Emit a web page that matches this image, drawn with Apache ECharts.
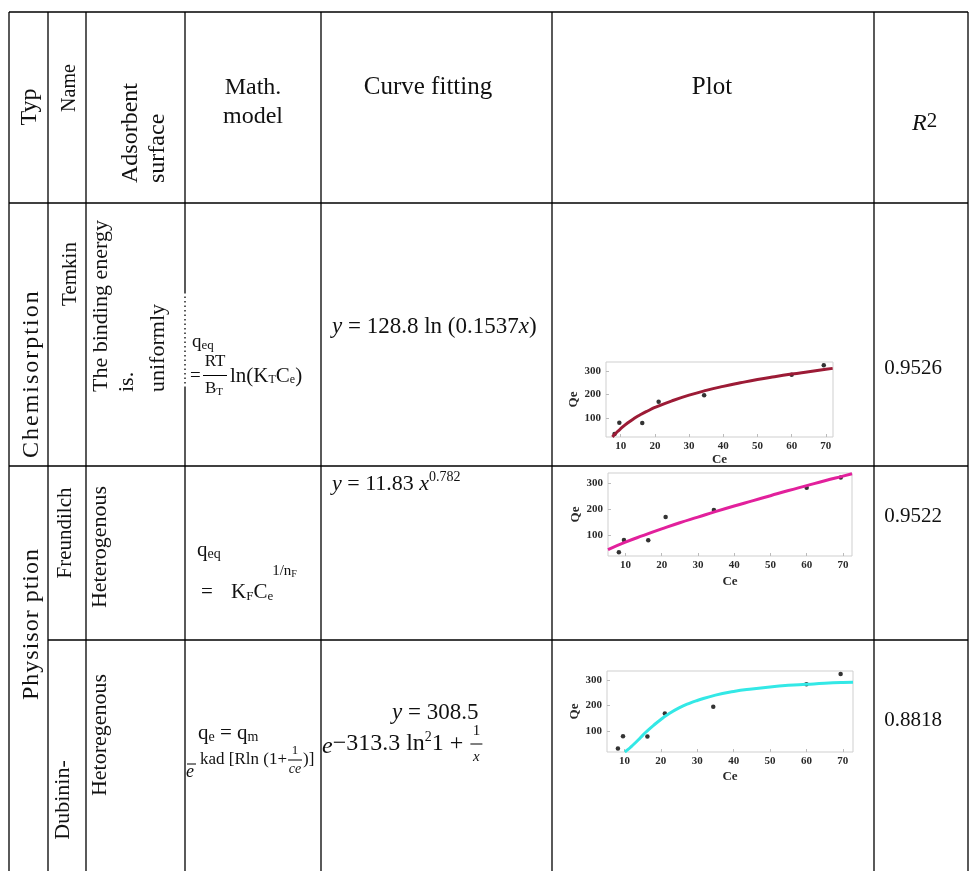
<!DOCTYPE html>
<html>
<head>
<meta charset="utf-8">
<script src="https://cdn.jsdelivr.net/npm/echarts@6/dist/echarts.min.js"></script>
<style>
html, body { margin: 0; padding: 0; background: #fff; }
#chart { width: 970px; height: 871px; }
</style>
</head>
<body>
<div id="chart"></div>
<script>
// Equilibrium measurements: Ce (equilibrium concentration) and Qe (uptake)
const ceObs = [8.2, 9.6, 16.3, 21.1, 34.4, 60.0, 69.4];
const qeObs = [33, 80, 79, 169, 196, 283, 323];

// Temkin fitted curve, y = 128.8 ln(0.1537x)
const temkinCe = [7.6, 8, 9, 10, 12, 14, 16, 18, 20, 25, 30, 35, 40, 45, 50, 55, 60, 65, 70, 72];
const temkinQe = [20, 27, 42, 55, 79, 99, 116, 131, 145, 173, 197, 217, 234, 249, 263, 275, 286, 296, 306, 310];

// Freundlich fitted curve, y = 11.83 x^0.782
const freundCe = [5.2, 10, 15, 20, 25, 30, 35, 40, 45, 50, 55, 60, 65, 70, 72.5];
const freundQe = [43, 72, 98, 123, 147, 169, 191, 212, 232, 252, 272, 291, 310, 328, 337];

// Dubinin fitted curve
const dubCe = [10.1, 11, 12, 13, 14, 15, 16, 18, 20, 22, 25, 28, 30, 35, 40, 45, 50, 55, 60, 65, 70, 72.8];
const dubQe = [19, 29, 42, 55, 69, 84, 98, 123, 146, 166, 191, 210, 220, 241, 255, 265, 273, 279, 283, 287, 290, 291];

const ceTicks = [10, 20, 30, 40, 50, 60, 70];
const qeTicks = [100, 200, 300];
const rSquared = ['0.9526', '0.9522', '0.8818'];

const SERIF = '"Liberation Serif", "Times New Roman", serif';
const mctx = document.createElement('canvas').getContext('2d');
function fontStr(size, italic, bold) {
  return (italic ? 'italic ' : '') + (bold ? 'bold ' : '') + size + 'px ' + SERIF;
}
function measure(s, f) { mctx.font = f; return mctx.measureText(s).width; }

const G = [];
function text(s, x, y, size, o) {
  o = o || {};
  const f = fontStr(size, o.italic, o.bold);
  const al = o.align || 'center';
  const va = o.va || 'middle';
  G.push({
    type: 'text', x: x, y: y, rotation: o.rot || 0, z: 20, silent: true,
    style: { text: s, font: f, fill: '#111', align: al, verticalAlign: va, textAlign: al, textVerticalAlign: va }
  });
  return measure(s, f);
}
// pieces laid out left to right, each with its own size / offset
function run(x, y, parts) {
  let cx = x;
  parts.forEach(function (p) {
    const w = text(p.t, cx, y + (p.dy || 0), p.size, { italic: p.italic, align: 'left' });
    cx += w + (p.gap || 0);
  });
  return cx;
}
// text reading upward, starting from the bottom point y0
function upText(s, x, y0, size, spacing) {
  if (!spacing) { text(s, x, y0, size, { rot: Math.PI / 2, align: 'left' }); return; }
  const f = fontStr(size);
  let off = 0;
  for (const ch of s) {
    if (ch !== ' ') text(ch, x, y0 - off, size, { rot: Math.PI / 2, align: 'left' });
    off += measure(ch, f) + spacing;
  }
}
function upCenter(s, x, yc, size) { text(s, x, yc, size, { rot: Math.PI / 2 }); }
function rule(x1, y1, x2, y2, dash, lw) {
  G.push({
    type: 'line', z: 15, silent: true,
    shape: { x1: x1, y1: y1, x2: x2, y2: y2 },
    style: { stroke: '#000', lineWidth: lw || 1.3, lineDash: dash || null }
  });
}

// ---- table rules ----
const colX = [9, 48, 86, 185, 321, 552, 874, 968];
const TOP = 12, HEAD = 203, ROW1 = 466, ROW2 = 640, BOTTOM = 871;
colX.forEach(function (x) {
  if (x === 185) {
    rule(x, TOP, x, 292);
    rule(x, 292, x, 388, [1.5, 3]);
    rule(x, 388, x, BOTTOM);
  } else {
    rule(x, TOP, x, BOTTOM);
  }
});
rule(9, TOP, 968, TOP);
rule(9, HEAD, 968, HEAD);
rule(9, ROW1, 968, ROW1);
rule(48, ROW2, 968, ROW2);

// ---- header ----
upCenter('Typ', 30, 107, 24);
upCenter('Name', 70, 88, 20);
upText('Adsorbent', 131, 183, 24);
upText('surface', 158, 183, 24);
text('Math.', 253, 88, 24);
text('model', 253, 117, 24);
text('Curve fitting', 428, 87, 25);
text('Plot', 712, 87, 25);
run(912, 124, [{ t: 'R', size: 24, italic: true }, { t: '2', size: 21, dy: -3 }]);

// ---- Temkin row ----
upText('Chemisorption', 32, 458, 24, 2);
upCenter('Temkin', 70, 274, 21);
upText('The binding energy', 101, 392, 22);
upText('is.', 127, 392, 22);
upText('uniformly', 158, 392, 22);
run(192, 342, [{ t: 'q', size: 19 }, { t: 'eq', size: 13, dy: 4 }]);
text('=', 190, 376, 19, { align: 'left' });
text('RT', 215, 362, 17);
rule(203, 375.5, 227, 375.5, null, 1);
run(205, 389, [{ t: 'B', size: 17 }, { t: 'T', size: 11, dy: 3 }]);
run(230, 376, [{ t: 'ln(K', size: 21 }, { t: 'T', size: 12, dy: 4 }, { t: 'C', size: 21 }, { t: 'e', size: 12, dy: 4 }, { t: ')', size: 21 }]);
run(332, 327, [{ t: 'y', size: 23, italic: true }, { t: ' = 128.8 ln (0.1537', size: 23 }, { t: 'x', size: 23, italic: true }, { t: ')', size: 23 }]);
text(rSquared[0], 913, 368, 21);

// ---- Freundlich row ----
upText('Physisor ption', 32, 700, 24, 1);
upCenter('Freundilch', 65, 533, 21);
upCenter('Heterogenous', 100, 547, 22);
run(197, 550, [{ t: 'q', size: 21 }, { t: 'eq', size: 14, dy: 4 }]);
text('=', 201, 592, 21, { align: 'left' });
const fx = run(231, 592, [{ t: 'K', size: 21 }, { t: 'F', size: 13, dy: 5 }, { t: 'C', size: 21 }, { t: 'e', size: 13, dy: 5 }]);
run(fx - 1, 571, [{ t: '1', size: 15 }, { t: '/', size: 15 }, { t: 'n', size: 15 }, { t: 'F', size: 10, dy: 3 }]);
run(332, 484, [{ t: 'y', size: 22, italic: true }, { t: ' = 11.83 ', size: 22 }, { t: 'x', size: 22, italic: true }, { t: '0.782', size: 14, dy: -7 }]);
text(rSquared[1], 913, 516, 21);

// ---- Dubinin row ----
upCenter('Dubinin-', 63, 800, 22);
upCenter('Hetoregenous', 100, 735, 22);
run(198, 733, [{ t: 'q', size: 21 }, { t: 'e', size: 14, dy: 4 }, { t: ' = ', size: 21 }, { t: 'q', size: 21 }, { t: 'm', size: 14, dy: 4 }]);
text('e', 186, 772, 18, { italic: true, align: 'left' });
rule(187, 764, 196, 764, null, 1);
const kx = run(200, 760, [{ t: 'kad [Rln (1+', size: 17 }]);
text('1', kx + 8, 751, 13);
rule(kx + 1, 760, kx + 15, 760, null, 1);
text('ce', kx + 8, 769, 14, { italic: true });
run(kx + 16, 760, [{ t: ')]', size: 17 }]);
run(392, 713, [{ t: 'y', size: 23, italic: true }, { t: ' = 308.5', size: 23 }]);
const ex = run(322, 744, [{ t: 'e', size: 24, italic: true, dy: 3 }, { t: '\u2212313.3 ln', size: 24 }, { t: '2', size: 14, dy: -7 }, { t: '1 + ', size: 24 }]);
text('1', ex + 7, 731, 15);
rule(ex + 1, 744, ex + 13, 744, null, 1);
text('x', ex + 7, 757, 15, { italic: true });
text(rSquared[2], 913, 720, 21);

// ---- embedded plots ----
const grids = [
  { left: 606, top: 362, width: 227, height: 75, x: [5.7, 72.1], y: [20, 337], xGap: 16, color: '#9c1b36', ce: temkinCe, qe: temkinQe },
  { left: 608, top: 473, width: 244, height: 83, x: [5.2, 72.5], y: [18, 340], xGap: 19, color: '#e2209c', ce: freundCe, qe: freundQe },
  { left: 607, top: 671, width: 246, height: 81, x: [5.2, 72.8], y: [19, 335], xGap: 18, color: '#33e8e6', ce: dubCe, qe: dubQe }
];
const tickLabel = { fontFamily: SERIF, fontWeight: 'bold', fontSize: 11, color: '#2a2a2a' };
const nameStyle = { fontFamily: SERIF, fontWeight: 'bold', fontSize: 13, color: '#2a2a2a' };

const option = {
  animation: false,
  backgroundColor: '#fff',
  grid: grids.map(function (g) {
    return { left: g.left, top: g.top, width: g.width, height: g.height, show: true,
      borderColor: '#cfcfcf', borderWidth: 1, containLabel: false, outerBoundsMode: 'none' };
  }),
  xAxis: grids.map(function (g, i) {
    return {
      gridIndex: i, type: 'value', min: g.x[0], max: g.x[1],
      axisLine: { show: false }, splitLine: { show: false },
      axisTick: { show: true, inside: true, length: 3, lineStyle: { color: '#bbb' }, customValues: ceTicks },
      axisLabel: Object.assign({ customValues: ceTicks, margin: 4 }, tickLabel),
      name: 'Ce', nameLocation: 'middle', nameGap: g.xGap, nameTextStyle: nameStyle
    };
  }),
  yAxis: grids.map(function (g, i) {
    return {
      gridIndex: i, type: 'value', min: g.y[0], max: g.y[1],
      axisLine: { show: false }, splitLine: { show: false },
      axisTick: { show: true, inside: true, length: 3, lineStyle: { color: '#bbb' }, customValues: qeTicks },
      axisLabel: Object.assign({ customValues: qeTicks, margin: 5 }, tickLabel),
      name: 'Qe', nameLocation: 'middle', nameGap: 12, nameRotate: 90, nameTextStyle: nameStyle
    };
  }),
  series: [],
  graphic: { elements: G }
};
grids.forEach(function (g, i) {
  option.series.push({
    type: 'scatter', xAxisIndex: i, yAxisIndex: i, silent: true, z: 2,
    symbolSize: 4.5, itemStyle: { color: '#000' },
    data: ceObs.map(function (c, k) { return [c, qeObs[k]]; })
  });
  option.series.push({
    type: 'line', xAxisIndex: i, yAxisIndex: i, silent: true, z: 3,
    smooth: true, showSymbol: false, clip: true,
    lineStyle: { color: g.color, width: 3 },
    data: g.ce.map(function (c, k) { return [c, g.qe[k]]; })
  });
});

const chart = echarts.init(document.getElementById('chart'), null, { renderer: 'canvas' });
chart.setOption(option);
</script>
</body>
</html>
